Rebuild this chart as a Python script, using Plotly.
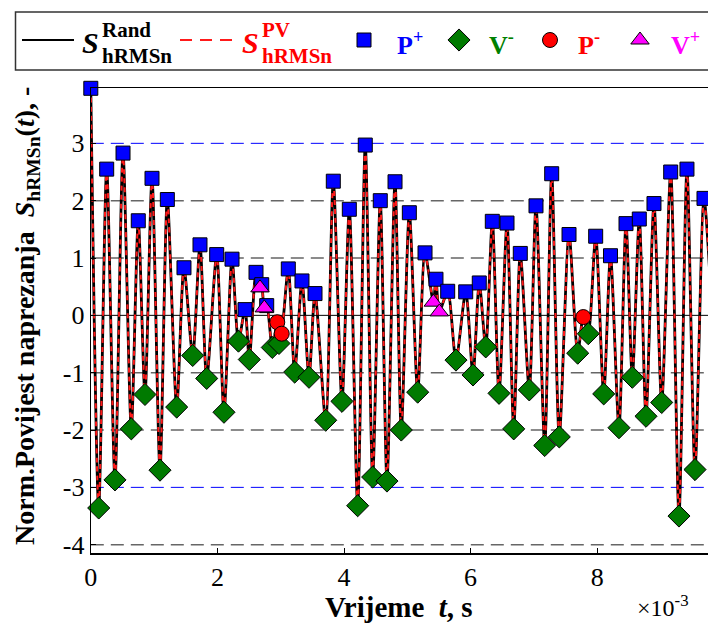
import plotly.graph_objects as go

# ---------------- data ----------------
# time of each turning point in ms (axis shows t in s, x 1e-3)
t_ms = [0.000, 0.125, 0.251, 0.382, 0.509, 0.640, 0.750, 0.856, 0.967, 1.093,
        1.209, 1.357, 1.472, 1.610, 1.725, 1.831, 1.989, 2.104, 2.231, 2.333,
        2.436, 2.504, 2.610, 2.673, 2.700, 2.741, 2.779, 2.867, 2.946, 2.973,
        3.016, 3.120, 3.221, 3.336, 3.447, 3.542, 3.711, 3.831, 3.968, 4.084,
        4.216, 4.336, 4.453, 4.573, 4.679, 4.806, 4.905, 5.032, 5.164, 5.280,
        5.411, 5.453, 5.506, 5.638, 5.769, 5.923, 6.038, 6.137, 6.239, 6.343,
        6.449, 6.575, 6.681, 6.785, 6.927, 7.033, 7.171, 7.281, 7.401, 7.555,
        7.692, 7.780, 7.859, 7.976, 8.103, 8.210, 8.344, 8.455, 8.555, 8.665,
        8.771, 8.897, 9.019, 9.161, 9.292, 9.418, 9.545, 9.687, 9.800]
s_val = [3.96, -3.36, 2.55, -2.87, 2.83, -1.98, 1.65, -1.38, 2.39, -2.70,
         2.02, -1.60, 0.83, -0.70, 1.23, -1.10, 1.06, -1.69, 0.98, -0.45,
         0.10, -0.77, 0.75, 0.48, 0.535, 0.13, 0.17, -0.56, -0.12, -0.49,
         -0.32, 0.81, -0.99, 0.60, -1.08, 0.38, -1.83, 2.34, -1.50, 1.85,
         -3.32, 2.97, -2.82, 2.00, -2.89, 2.33, -2.00, 1.79, -1.34, 1.09,
         0.23, 0.63, 0.06, 0.42, -0.78, 0.41, -1.04, 0.565, -0.55, 1.64,
         -1.36, 1.61, -1.98, 1.08, -1.30, 1.91, -2.27, 2.47, -2.12, 1.41,
         -0.66, -0.03, -0.32, 1.38, -1.37, 1.04, -1.96, 1.60, -1.08, 1.68,
         -1.76, 1.95, -1.52, 2.50, -3.50, 2.55, -2.69, 2.04, 0.30]
kind = ["P+", "V-", "P+", "V-", "P+", "V-", "P+", "V-", "P+", "V-",
        "P+", "V-", "P+", "V-", "P+", "V-", "P+", "V-", "P+", "V-",
        "P+", "V-", "P+", "V+", "P+", "V+", "P+", "V-", "P-", "V-",
        "P-", "P+", "V-", "P+", "V-", "P+", "V-", "P+", "V-", "P+",
        "V-", "P+", "V-", "P+", "V-", "P+", "V-", "P+", "V-", "P+",
        "V+", "P+", "V+", "P+", "V-", "P+", "V-", "P+", "V-", "P+",
        "V-", "P+", "V-", "P+", "V-", "P+", "V-", "P+", "V-", "P+",
        "V-", "P-", "V-", "P+", "V-", "P+", "V-", "P+", "V-", "P+",
        "V-", "P+", "V-", "P+", "V-", "P+", "V-", "P+", ""]

x_ticks = [0, 2, 4, 6, 8]
y_ticks = [-4, -3, -2, -1, 0, 1, 2, 3]
grid_gray = [-4, -2, -1, 1, 2]
grid_blue = [-3, 3]

t_s = [v * 1e-3 for v in t_ms]

FONT = "Liberation Serif, Times New Roman, Times, serif"
W, H = 708, 630   # figure fills the window (page margin removed below)


def px(xs):   # screen x pixel -> paper x
    return xs / W


def py(ys):   # screen y pixel -> paper y
    return 1 - ys / H


fig = go.Figure()

spline = dict(shape="spline", smoothing=0.75)
fig.add_trace(go.Scatter(x=t_s, y=s_val, mode="lines",
                         line=dict(color="black", width=2.8, **spline),
                         showlegend=False, hoverinfo="skip"))
fig.add_trace(go.Scatter(x=t_s, y=s_val, mode="lines",
                         line=dict(color="#ff1a1a", width=2.0, dash="5px,4px", **spline),
                         showlegend=False, hoverinfo="skip"))

mstyle = {
    "P+": dict(symbol="square", color="#0000ff", size=14),
    "V-": dict(symbol="diamond", color="#007a00", size=17),
    "P-": dict(symbol="circle", color="#ff0000", size=15),
    "V+": dict(symbol="triangle-up", color="#ff00ff", size=16),
}
for k in ["P+", "V-", "P-", "V+"]:
    xs = [t for t, kk in zip(t_s, kind) if kk == k]
    ys = [v for v, kk in zip(s_val, kind) if kk == k]
    st = mstyle[k]
    fig.add_trace(go.Scatter(x=xs, y=ys, mode="markers", cliponaxis=False,
                             marker=dict(symbol=st["symbol"], color=st["color"], size=st["size"],
                                         line=dict(color="black", width=1)),
                             showlegend=False, hoverinfo="skip"))

# ---- custom legend drawn on a helper axis scaled in screen pixels ----
leg_y = 40
fig.add_trace(go.Scatter(x=[22, 74], y=[leg_y, leg_y], mode="lines", xaxis="x2", yaxis="y2",
                         line=dict(color="black", width=2), showlegend=False, hoverinfo="skip"))
fig.add_trace(go.Scatter(x=[180, 232], y=[leg_y, leg_y], mode="lines", xaxis="x2", yaxis="y2",
                         line=dict(color="#ff1a1a", width=2, dash="12px,8px"),
                         showlegend=False, hoverinfo="skip"))
for k, xp in zip(["P+", "V-", "P-", "V+"], [364, 459, 550, 640]):
    st = mstyle[k]
    fig.add_trace(go.Scatter(x=[xp], y=[leg_y], mode="markers", xaxis="x2", yaxis="y2",
                             cliponaxis=False,
                             marker=dict(symbol=st["symbol"], color=st["color"], size=st["size"],
                                         line=dict(color="black", width=1)),
                             showlegend=False, hoverinfo="skip"))

ann = []


def a2(x, y, text, size, color="black", xanchor="left"):
    ann.append(dict(x=x, y=y, xref="x2", yref="y2", text=text, showarrow=False,
                    xanchor=xanchor, yanchor="middle",
                    font=dict(family=FONT, size=size, color=color)))


a2(80, 42, "<b><i>S</i></b>", 30)
a2(100, 30, "<b>Rand</b>", 21)
a2(100, 56, "<b>hRMSn</b>", 21)
a2(240, 42, "<b><i>S</i></b>", 30, "#ff0000")
a2(260, 30, "<b>PV</b>", 21, "#ff0000")
a2(260, 56, "<b>hRMSn</b>", 21, "#ff0000")
a2(395, 43, "<b>P<sup>+</sup></b>", 26, "#0000ff")
a2(487, 43, "<b>V<sup>-</sup></b>", 26, "#008000")
a2(576, 43, "<b>P<sup>-</sup></b>", 26, "#ff0000")
a2(669, 43, "<b>V<sup>+</sup></b>", 26, "#ff00ff")

# axis titles and exponent label (paper coordinates)
ann.append(dict(x=px(399), y=py(607), xref="paper", yref="paper", showarrow=False,
                text="<b>Vrijeme&nbsp;&nbsp;<i>t</i>, s</b>", xanchor="center", yanchor="middle",
                font=dict(family=FONT, size=29, color="black")))
ann.append(dict(x=px(26), y=py(316), xref="paper", yref="paper", showarrow=False,
                text="<b>Norm.Povijest naprezanja&nbsp;&nbsp;<i>S</i><sub>hRMSn</sub>(<i>t</i>), -</b>",
                textangle=-90, xanchor="center", yanchor="middle",
                font=dict(family=FONT, size=28, color="black")))
ann.append(dict(x=px(663), y=py(606), xref="paper", yref="paper", showarrow=False,
                text="×10<sup>-3</sup>", xanchor="center", yanchor="middle",
                font=dict(family=FONT, size=24, color="black")))

shapes = []
for g in grid_gray:
    shapes.append(dict(type="line", xref="x domain", yref="y", x0=0, x1=1, y0=g, y1=g,
                       line=dict(color="#666666", width=1.6, dash="13px,7px"), layer="below"))
for g in grid_blue:
    shapes.append(dict(type="line", xref="x domain", yref="y", x0=0, x1=1, y0=g, y1=g,
                       line=dict(color="#0000ff", width=1.0, dash="13px,7px"), layer="below"))
shapes.append(dict(type="line", xref="x domain", yref="y", x0=0, x1=1, y0=0, y1=0,
                   line=dict(color="black", width=1), layer="below"))
# legend frame (right side runs off the picture)
shapes.append(dict(type="path", xref="x2", yref="y2",
                   path="M 740 12 L 15.5 12 L 15.5 70 L 740 70",
                   line=dict(color="#333333", width=1.5)))

# plot box in screen pixels: left 90.8, right 708 (window edge), top 88.3, bottom 553.3
X0_PX, PX_PER_MS = 90.8, 63.3
x_lo, x_hi = 0.0, (W - X0_PX) / PX_PER_MS * 1e-3
y_lo, y_hi = -4.15, 3.96

fig.update_layout(
    width=W, height=H,
    margin=dict(l=0, r=0, t=0, b=0, autoexpand=False),
    paper_bgcolor="white", plot_bgcolor="white",
    font=dict(family=FONT, size=26, color="black"),
    showlegend=False,
    annotations=ann, shapes=shapes,
    xaxis=dict(domain=[px(X0_PX), 1], range=[x_lo, x_hi], automargin=False,
               tickvals=[v * 1e-3 for v in x_ticks], ticktext=[str(v) for v in x_ticks],
               ticks="inside", ticklen=5, tickwidth=1, tickcolor="black",
               showline=True, linecolor="black", linewidth=1.2, mirror=True,
               showgrid=False, zeroline=False,
               tickfont=dict(family=FONT, size=26, color="black")),
    yaxis=dict(domain=[py(553.3), py(88.3)], range=[y_lo, y_hi], automargin=False,
               tickvals=y_ticks, ticktext=[str(v) for v in y_ticks],
               ticks="inside", ticklen=5, tickwidth=1, tickcolor="black",
               showline=True, linecolor="black", linewidth=1.2, mirror=False,
               showgrid=False, zeroline=False,
               tickfont=dict(family=FONT, size=26, color="black")),
    xaxis2=dict(domain=[0, 1], range=[0, W], visible=False, anchor="y2",
                automargin=False),
    yaxis2=dict(domain=[py(80), 1], range=[80, 0], visible=False, anchor="x2",
                automargin=False),
)

fig.write_html("out.html",
               config={"displayModeBar": False, "staticPlot": True},
               post_script="document.body.style.margin='0';"
                           "document.body.style.overflow='hidden';")
